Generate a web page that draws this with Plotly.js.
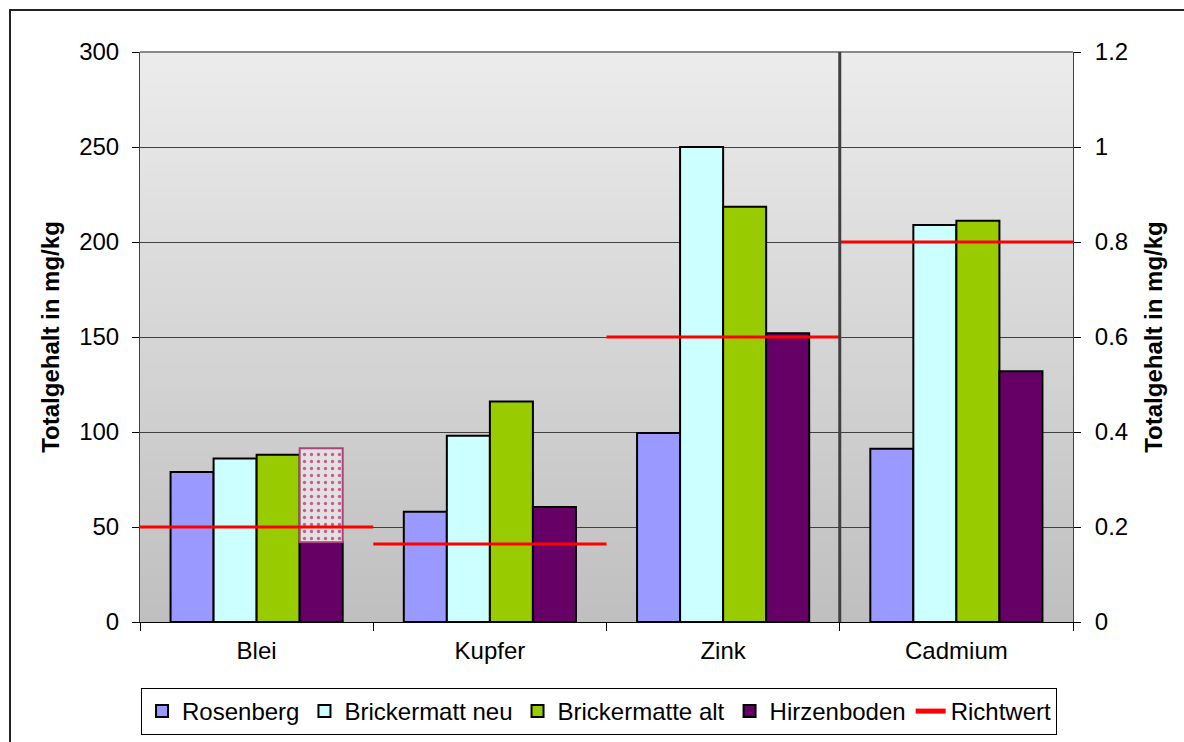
<!DOCTYPE html>
<html>
<head>
<meta charset="utf-8">
<script src="https://cdn.plot.ly/plotly-3.0.1.min.js"></script>
<style>
  html, body { margin: 0; padding: 0; background: #fff; overflow: hidden; }
  #chart { width: 1184px; height: 742px; }
  #frame { position: absolute; left: 9px; top: 9px; width: 1175px; height: 733px;
           border-left: 2px solid #222; border-top: 2px solid #222; pointer-events: none; box-sizing: border-box; }
</style>
</head>
<body>
<div id="chart"></div>
<div id="frame"></div>
<script>
// ---- data ----
const categories = ['Blei', 'Kupfer', 'Zink', 'Cadmium'];
const rightAxisCategory = 'Cadmium';          // plotted against the right axis (0–1.2)
const rosenberg      = [79, 58, 99.5, 0.365];
const brickermattNeu = [86, 98, 250, 0.836];
const brickermatteAlt= [88, 116, 218.5, 0.845];
const hirzenboden    = [42, 60.5, 152, 0.528];
const richtwert      = [50, 41, 150, 0.8];
const bleiHirzenbodenRangeTop = 91.5;          // dotted box above Hirzenboden (Blei)

const seriesNames  = ['Rosenberg', 'Brickermatt neu', 'Brickermatte alt', 'Hirzenboden'];
const seriesValues = [rosenberg, brickermattNeu, brickermatteAlt, hirzenboden];
const seriesColors = ['#9999FF', '#CCFFFF', '#99CC00', '#660066'];

const xIdx = categories.map((c, i) => i);
const isRight = categories.map(c => c === rightAxisCategory);

const traces = [];
seriesNames.forEach((name, s) => {
  const vals = seriesValues[s];
  const common = {
    type: 'bar', x: xIdx, offsetgroup: String(s), legendgroup: name, name: name,
    marker: { color: seriesColors[s], line: { color: '#000', width: 2 } },
    hoverinfo: 'x+y'
  };
  traces.push(Object.assign({}, common, {
    y: vals.map((v, i) => isRight[i] ? null : v), yaxis: 'y', showlegend: true
  }));
  traces.push(Object.assign({}, common, {
    y: vals.map((v, i) => isRight[i] ? v : null), yaxis: 'y2', showlegend: false
  }));
});

// dotted range box above Hirzenboden in Blei
const bleiIdx = categories.indexOf('Blei');
traces.push({
  type: 'bar', x: [bleiIdx], y: [bleiHirzenbodenRangeTop - hirzenboden[bleiIdx]],
  base: [hirzenboden[bleiIdx]], offsetgroup: '3', yaxis: 'y', showlegend: false,
  marker: { color: '#e4e0e2', line: { color: '#a8467a', width: 2 },
            pattern: { shape: '.', fgcolor: '#c0608f', bgcolor: '#e4e0e2', size: 7, solidity: 0.18 } },
  hoverinfo: 'skip'
});

// Richtwert segments spanning each category
function segs(filterRight) {
  const xs = [], ys = [];
  categories.forEach((c, i) => {
    if (isRight[i] !== filterRight) return;
    xs.push(i - 0.5, i + 0.5, null);
    ys.push(richtwert[i], richtwert[i], null);
  });
  return { xs, ys };
}
const rl = segs(false), rr = segs(true);
traces.push({ type: 'scatter', mode: 'lines', x: rl.xs, y: rl.ys, yaxis: 'y',
  name: 'Richtwert', legendgroup: 'Richtwert', line: { color: '#FF0000', width: 3 }, connectgaps: false });
traces.push({ type: 'scatter', mode: 'lines', x: rr.xs, y: rr.ys, yaxis: 'y2',
  name: 'Richtwert', legendgroup: 'Richtwert', showlegend: false, line: { color: '#FF0000', width: 3 }, connectgaps: false });

// background gradient stripes
const shapes = [];
const N = 114;
const gradTop = [236, 236, 236], gradBot = [191, 191, 191];
for (let k = 0; k < N; k++) {
  const t = (k + 0.5) / N; // 0 bottom -> 1 top
  const c = gradBot.map((b, j) => Math.round(b + (gradTop[j] - b) * t));
  shapes.push({ type: 'rect', xref: 'paper', yref: 'paper', x0: 0, x1: 1,
    y0: k / N, y1: Math.min(1, (k + 1.15) / N), layer: 'below',
    fillcolor: `rgb(${c[0]},${c[1]},${c[2]})`, line: { width: 0 } });
}
// top border of plot area
shapes.push({ type: 'line', xref: 'paper', yref: 'paper', x0: 0, x1: 1, y0: 1, y1: 1,
  line: { color: '#8a8a8a', width: 2 } });
// separator between left-axis and right-axis categories
const sepIdx = categories.indexOf(rightAxisCategory) - 0.5;
shapes.push({ type: 'line', xref: 'x', yref: 'paper', x0: sepIdx, x1: sepIdx, y0: 0, y1: 1,
  line: { color: '#404040', width: 3 } });

const font = { family: '"Liberation Sans", Arial, sans-serif', size: 24, color: '#000' };

const layout = {
  width: 1184, height: 742,
  margin: { l: 140, r: 111, t: 52, b: 120, autoexpand: false },
  paper_bgcolor: 'rgba(0,0,0,0)', plot_bgcolor: 'rgba(0,0,0,0)',
  font: font,
  barmode: 'group', bargap: 0.262, bargroupgap: 0,
  showlegend: true,
  legend: { orientation: 'h', x: 0.492, xanchor: 'center', yref: 'container', y: 1 - 688 / 742, yanchor: 'top',
    bgcolor: '#fff', bordercolor: '#000', borderwidth: 1, font: font,
    itemsizing: 'constant', traceorder: 'normal' },
  xaxis: {
    type: 'linear', range: [-0.5, categories.length - 0.5], automargin: false,
    tickmode: 'array', tickvals: xIdx, ticktext: categories, ticks: '',
    ticklabelstandoff: 7,
    showgrid: false, zeroline: false, showline: true, linecolor: '#000', linewidth: 1,
    minor: { ticks: 'outside', tick0: -0.5, dtick: 1, ticklen: 8, tickcolor: '#000', showgrid: false },
    tickfont: font, fixedrange: true
  },
  yaxis: {
    range: [0, 300], dtick: 50, tick0: 0, automargin: false,
    ticks: 'outside', ticklen: 7, tickcolor: '#000', ticklabelstandoff: 8,
    showgrid: true, gridcolor: '#404040', gridwidth: 1,
    zeroline: false, showline: true, linecolor: '#404040', linewidth: 1,
    title: { text: '<b>Totalgehalt in mg/kg</b>', font: font, standoff: 12 },
    tickfont: font, fixedrange: true
  },
  yaxis2: {
    range: [0, 1.2], dtick: 0.2, tick0: 0, overlaying: 'y', side: 'right', automargin: false,
    ticks: 'outside', ticklen: 7, tickcolor: '#000', ticklabelstandoff: 9,
    showgrid: false, zeroline: false, showline: true, linecolor: '#404040', linewidth: 1,
    title: { text: '<b>Totalgehalt in mg/kg</b>', font: font, standoff: 18 },
    tickfont: font, fixedrange: true
  },
  shapes: shapes
};

Plotly.newPlot('chart', traces, layout, { displayModeBar: false, staticPlot: true });
</script>
</body>
</html>
